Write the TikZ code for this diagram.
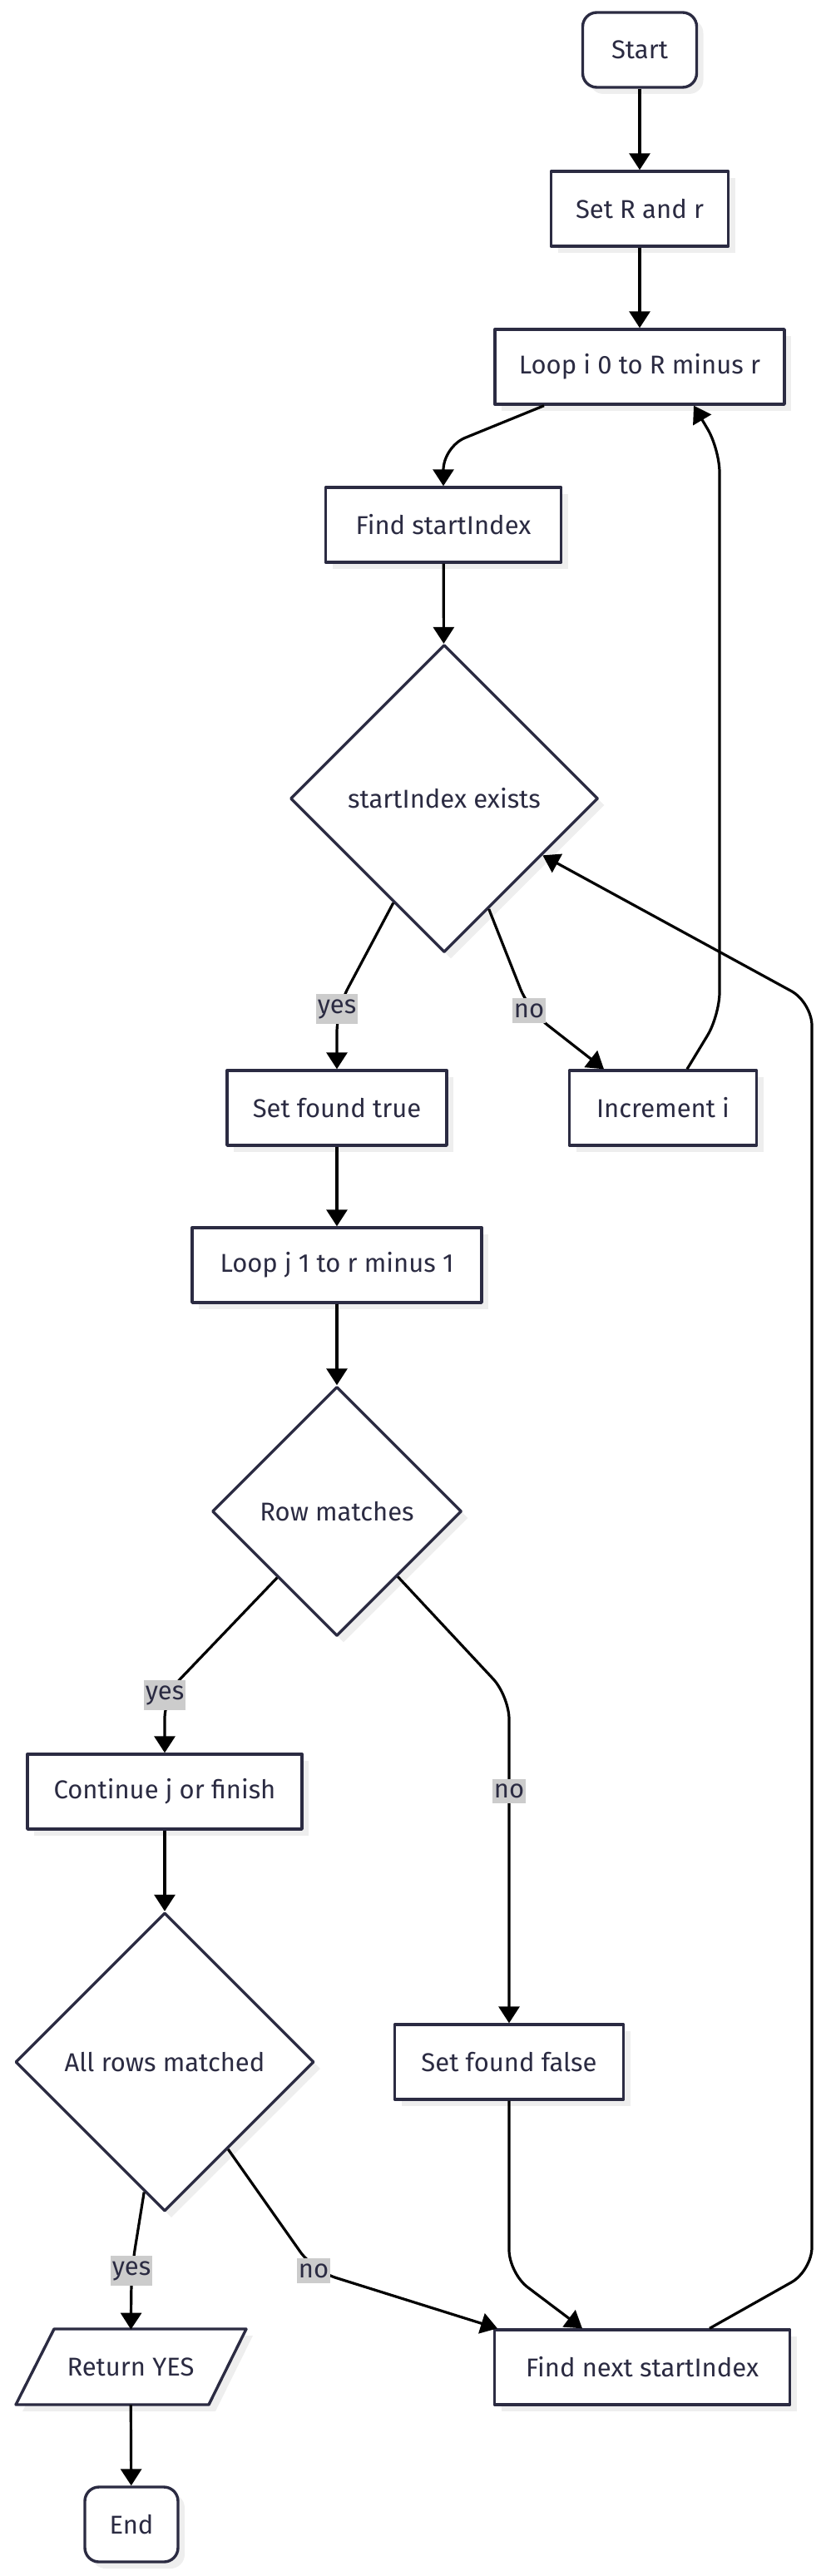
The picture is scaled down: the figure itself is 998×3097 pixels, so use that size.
\documentclass[tikz,border=0pt]{standalone}
\usepackage{fontspec}
\setmainfont{Fira Sans}
\usetikzlibrary{shapes.geometric,arrows.meta,shadows}

\definecolor{ink}{HTML}{2B2B42}
\definecolor{lblgray}{HTML}{CCCCCC}
\definecolor{shade}{HTML}{EEEEEE}

\tikzset{
	base/.style={draw=ink, line width=1.7pt, fill=white, text=ink,
		drop shadow={shadow xshift=4pt, shadow yshift=-4pt, fill=shade, opacity=1}},
	proc/.style={base, rectangle, minimum height=45pt, inner xsep=0pt},
	term/.style={proc, rounded corners=8.5pt},
	decision/.style={base, diamond, aspect=1, inner sep=0pt},
	iotext/.style={rectangle, text=ink, minimum height=45pt, minimum width=100pt},
	edge/.style={line width=1.6pt, -{Triangle[length=10pt,width=12.5pt]}, rounded corners=14pt},
	lbl/.style={fill=lblgray, text=ink, inner xsep=1pt, inner ysep=3pt, rounded corners=0pt}
}

\begin{document}
\begin{tikzpicture}[x=0.5pt, y=-0.5pt, font=\fontsize{15.5}{18}\selectfont, line join=round]
	\useasboundingbox (0,0) rectangle (998,3097);
	\node[term, minimum width=68.5pt] (start) at (769,60) {Start};
	\node[proc, minimum width=106.5pt] (setr) at (769,251) {Set R and r};
	\node[proc, minimum width=174pt] (loopi) at (769,441) {Loop i 0 to R minus r};
	\node[proc, minimum width=141.5pt] (find) at (533,631) {Find startIndex};
	\node[decision, minimum width=185pt, minimum height=185pt] (exists) at (534,960) {startIndex exists};
	\node[proc, minimum width=132pt] (foundtrue) at (405,1332) {Set found true};
	\node[proc, minimum width=112.5pt] (incr) at (797,1332) {Increment i};
	\node[proc, minimum width=174pt] (loopj) at (405,1521) {Loop j 1 to r minus 1};
	\node[decision, minimum width=150pt, minimum height=150pt] (rowok) at (405,1817) {Row matches};
	\node[proc, minimum width=165pt] (cont) at (198,2154) {Continue j or finish};
	\node[proc, minimum width=137.5pt] (foundfalse) at (612,2479) {Set found false};
	\node[decision, minimum width=179.5pt, minimum height=179.5pt] (allok) at (198,2479) {All rows matched};
	\path[base] (65,2800) -- (296,2800) -- (251,2891) -- (19,2891) -- cycle;
	\node[iotext] (ret) at (157,2846) {Return YES};
	\node[proc, minimum width=177.5pt] (next) at (772,2846) {Find next startIndex};
	\node[term, minimum width=56pt] (end) at (158,3035) {End};

	\draw[edge] (start) -- (setr);
	\draw[edge] (setr) -- (loopi);
	\draw[edge] ([xshift=-57.5pt]loopi.south) -- (533,537) -- (find);
	\draw[edge] (find) -- (exists);
	\draw[edge] (exists.244) -- (405,1213) node[lbl] {yes} -- (foundtrue);
	\draw[edge] (exists.292) -- (636,1215) node[lbl] {no} -- ([xshift=-35.5pt]incr.north);
	\draw[edge] ([xshift=14.5pt]incr.north) -- (865,1221) -- (865,540) -- ([xshift=32.5pt]loopi.south);
	\draw[edge] (foundtrue) -- (loopj);
	\draw[edge] (loopj) -- (rowok);
	\draw[edge] (rowok.228) -- (198,2038) node[lbl] {yes} -- (cont);
	\draw[edge] (rowok.-47) -- (612,2039) -- node[lbl, pos=0.29] {no} (foundfalse);
	\draw[edge] (cont) -- (allok);
	\draw[edge] (allok.261) -- (158,2730) node[lbl] {yes} -- (ret);
	\draw[edge] (allok.-54) -- (377,2730) node[lbl] {no} -- ([xshift=-87pt]next.north);
	\draw[edge] (foundfalse) -- (612,2733) -- ([xshift=-36pt]next.north);
	\draw[edge] ([xshift=40.5pt]next.north) -- (976,2730) -- (976,1205) -- (exists.-30);
	\draw[edge] (ret) -- (end);
\end{tikzpicture}
\end{document}
